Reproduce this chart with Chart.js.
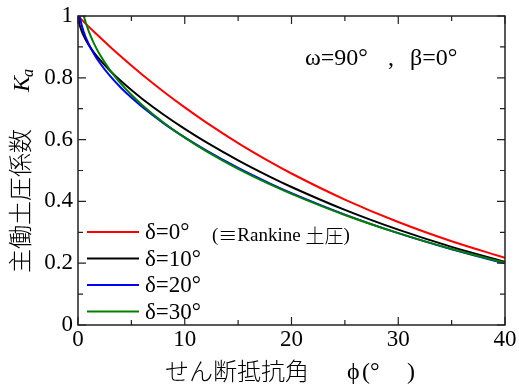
<!DOCTYPE html>
<html><head><meta charset="utf-8">
<script src="https://cdn.jsdelivr.net/npm/chart.js@4/dist/chart.umd.min.js"></script>
<style>html,body{margin:0;padding:0;background:#fff}canvas{display:block}</style>
</head><body>
<canvas id="c" width="519" height="390"></canvas>
<script>
// shear resistance angle phi (deg)
const phi = [0, 0.1, 0.25, 0.5, 1, 1.5, 2, 3, 4, 5, 6, 8, 10, 12, 15, 18, 20, 25, 30, 35, 40];
// active earth pressure coefficient Ka for each wall friction angle delta
const kaDelta0  = [1.0000, 0.9965, 0.9913, 0.9827, 0.9657, 0.9490, 0.9326, 0.9005, 0.8696, 0.8397, 0.8107, 0.7557, 0.7041, 0.6558, 0.5888, 0.5279, 0.4903, 0.4059, 0.3333, 0.2710, 0.2174];
const kaDelta10 = [1.0154, 0.9805, 0.9607, 0.9384, 0.9066, 0.8817, 0.8602, 0.8229, 0.7901, 0.7602, 0.7324, 0.6813, 0.6348, 0.5918, 0.5330, 0.4796, 0.4467, 0.3726, 0.3085, 0.2528, 0.2045];
const kaDelta20 = [1.0642, 1.0124, 0.9837, 0.9524, 0.9094, 0.8772, 0.8504, 0.8059, 0.7687, 0.7359, 0.7062, 0.6535, 0.6070, 0.5650, 0.5084, 0.4578, 0.4269, 0.3574, 0.2973, 0.2450, 0.1994];
const kaDelta30 = [1.1547, 1.0846, 1.0466, 1.0056, 0.9508, 0.9107, 0.8780, 0.8250, 0.7820, 0.7450, 0.7122, 0.6553, 0.6064, 0.5630, 0.5056, 0.4551, 0.4244, 0.3560, 0.2972, 0.2460, 0.2012];
const seriesLabels = ['δ=0°', 'δ=10°', 'δ=20°', 'δ=30°'];
const seriesColors = ['#ff0000', '#000000', '#0000ff', '#008000'];
const xTickValues = [0, 10, 20, 30, 40];
const yTickValues = [0, 0.2, 0.4, 0.6, 0.8, 1];

const SERIF = "'Liberation Serif', serif";
const JP = "'Noto Sans CJK JP', sans-serif";

const seriesValues = [kaDelta0, kaDelta10, kaDelta20, kaDelta30];
const datasets = seriesValues.map((vals, i) => ({
  label: seriesLabels[i],
  data: phi.map((p, j) => ({x: p, y: vals[j]})),
  borderColor: seriesColors[i],
  backgroundColor: seriesColors[i],
  borderWidth: 2,
  pointRadius: 0,
  fill: false,
  cubicInterpolationMode: 'monotone',
  clip: 0,
  order: 3 - i
}));

function seq(ctx, parts, x0, y0) {
  let x = x0;
  for (const [text, font] of parts) {
    ctx.font = font;
    ctx.fillText(text, x, y0);
    x += ctx.measureText(text).width;
  }
}

const decor = {
  id: 'decor',
  afterDraw(chart) {
    const {ctx, chartArea: a, scales: {x, y}} = chart;
    ctx.save();
    ctx.fillStyle = '#000';
    // tick labels (positions from the scales)
    ctx.font = "23px " + SERIF;
    ctx.textAlign = 'center';
    ctx.textBaseline = 'top';
    xTickValues.forEach(v => ctx.fillText(String(v), x.getPixelForValue(v), a.bottom + 3));
    ctx.textAlign = 'right';
    ctx.textBaseline = 'middle';
    yTickValues.forEach(v => ctx.fillText(String(Math.round(v * 10) / 10), a.left - 5, y.getPixelForValue(v)));

    // frame
    ctx.strokeStyle = '#222';
    ctx.lineWidth = 1.5;
    ctx.strokeRect(a.left, a.top, a.right - a.left, a.bottom - a.top);
    // inward ticks on all four sides
    ctx.lineWidth = 1.2;
    ctx.beginPath();
    for (let v = 0; v <= 40; v += 5) {
      const px = x.getPixelForValue(v);
      const len = (v % 10 === 0) ? 8 : 5;
      ctx.moveTo(px, a.bottom); ctx.lineTo(px, a.bottom - len);
      ctx.moveTo(px, a.top); ctx.lineTo(px, a.top + len);
    }
    for (let k = 0; k <= 10; k++) {
      const py = y.getPixelForValue(k / 10);
      const len = (k % 2 === 0) ? 8 : 5;
      ctx.moveTo(a.left, py); ctx.lineTo(a.left + len, py);
      ctx.moveTo(a.right, py); ctx.lineTo(a.right - len, py);
    }
    ctx.stroke();

    // legend
    const legY = [232, 258.5, 285, 311.5];
    ctx.textBaseline = 'middle';
    ctx.textAlign = 'left';
    for (let i = 0; i < 4; i++) {
      ctx.strokeStyle = seriesColors[i];
      ctx.lineWidth = 2;
      ctx.beginPath();
      ctx.moveTo(87, legY[i]); ctx.lineTo(139, legY[i]);
      ctx.stroke();
      ctx.font = "23px " + SERIF;
      ctx.fillText(seriesLabels[i], 145, legY[i] + 1);
    }
    seq(ctx, [['(', "19px " + SERIF], ['≡', "300 19px " + JP], ['Rankine ', "19px " + SERIF],
              ['土圧', "300 19px " + JP], [')', "19px " + SERIF]], 212, 236);

    // annotation
    ctx.font = "24px " + SERIF;
    ctx.fillText('ω=90°', 305, 59);
    ctx.fillText(',', 388, 59);
    ctx.fillText('β=0°', 410, 59);

    // x title
    ctx.font = "300 24px " + JP;
    ctx.fillText('せん断抵抗角', 165, 371);
    ctx.font = "24px " + SERIF;
    ctx.fillText('ϕ', 347, 373);
    ctx.fillText('(', 362, 373);
    ctx.fillText('°', 370, 373);
    ctx.fillText(')', 407, 373);

    // y title (rotated)
    ctx.save();
    ctx.translate(20, 273);
    ctx.rotate(-Math.PI / 2);
    ctx.textBaseline = 'middle';
    ctx.font = "300 24px " + JP;
    ctx.fillText('主働土圧係数', 0, 0);
    ctx.textBaseline = 'alphabetic';
    ctx.font = "italic 24px " + SERIF;
    ctx.fillText('K', 181, 9);
    const kw = ctx.measureText('K').width;
    ctx.font = "italic 16px " + SERIF;
    ctx.fillText('a', 181 + kw - 1, 13);
    ctx.restore();

    ctx.restore();
  }
};

const chart = new Chart(document.getElementById('c'), {
  type: 'line',
  data: {datasets},
  options: {
    responsive: false,
    animation: false,
    devicePixelRatio: 1,
    layout: {padding: {top: 16, right: 14, left: 0, bottom: 0}},
    plugins: {legend: {display: false}, tooltip: {enabled: false}},
    events: [],
    scales: {
      x: {
        type: 'linear', min: 0, max: 40,
        afterBuildTicks: s => { s.ticks = xTickValues.map(v => ({value: v})); },
        ticks: {display: false},
        grid: {display: false, drawTicks: false},
        border: {display: false},
        afterFit: s => { s.height = 65; }
      },
      y: {
        type: 'linear', min: 0, max: 1,
        afterBuildTicks: s => { s.ticks = yTickValues.map(v => ({value: v})); },
        ticks: {display: false},
        grid: {display: false, drawTicks: false},
        border: {display: false},
        afterFit: s => { s.width = 78; }
      }
    }
  },
  plugins: [decor]
});

const fontSpecs = ["23px 'Liberation Serif'", "italic 24px 'Liberation Serif'", "300 24px 'Noto Sans CJK JP'", "24px 'Noto Sans CJK JP'"];
Promise.all(fontSpecs.map(f => document.fonts.load(f, '0δ土'))).then(() => chart.render()).catch(() => {});
setTimeout(() => chart.render(), 100);
</script>
</body></html>
